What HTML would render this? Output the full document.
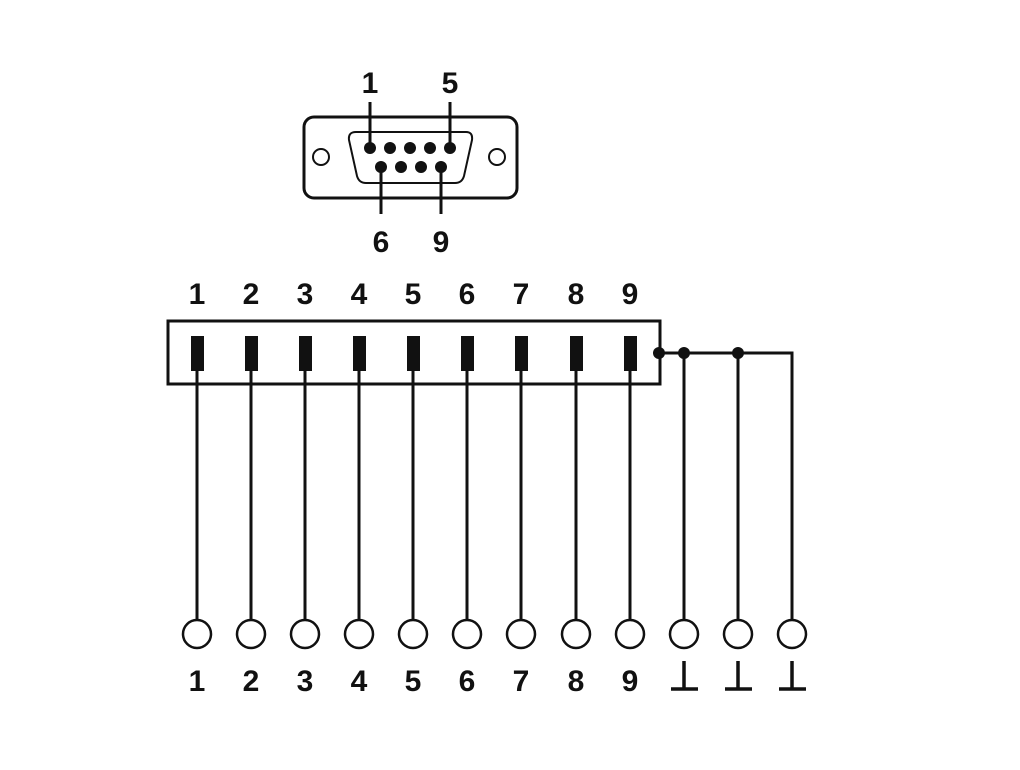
<!DOCTYPE html>
<html><head><style>body{margin:0;background:#fff}</style></head><body>
<svg width="1020" height="765" viewBox="0 0 1020 765" xmlns="http://www.w3.org/2000/svg" font-family="Liberation Sans, sans-serif" font-weight="bold" font-size="30" fill="none" stroke="#111" stroke-width="3">
<rect x="304" y="117" width="213" height="81" rx="10"/>
<circle cx="321" cy="157" r="8" stroke-width="2"/>
<circle cx="497" cy="157" r="8" stroke-width="2"/>
<path d="M356 132 H466 Q473 132 472 140 L464 176 Q462 183 455 183 H366 Q359 183 357 176 L349 140 Q348 132 356 132 Z" stroke-width="2"/>
<g fill="#111" stroke="none">
<circle cx="370" cy="148" r="6"/><circle cx="390" cy="148" r="6"/><circle cx="410" cy="148" r="6"/><circle cx="430" cy="148" r="6"/><circle cx="450" cy="148" r="6"/>
<circle cx="381" cy="167" r="6"/><circle cx="401" cy="167" r="6"/><circle cx="421" cy="167" r="6"/><circle cx="441" cy="167" r="6"/>
</g>
<path d="M370 148 V102 M450 148 V102 M381 167 V214 M441 167 V214"/>
<g fill="#111" stroke="none" text-anchor="middle">
<text x="370" y="93">1</text><text x="450" y="93">5</text>
<text x="381" y="252">6</text><text x="441" y="252">9</text>
</g>
<rect x="168" y="321" width="492" height="63"/>
<path d="M659 353 H792 V620 M684 353 V620 M738 353 V620"/>
<g fill="#111" stroke="none">
<circle cx="659" cy="353" r="6"/><circle cx="684" cy="353" r="6"/><circle cx="738" cy="353" r="6"/>
</g>
<g fill="#111" stroke="none" text-anchor="middle">
<text x="197" y="304">1</text><text x="251" y="304">2</text><text x="305" y="304">3</text><text x="359" y="304">4</text><text x="413" y="304">5</text><text x="467" y="304">6</text><text x="521" y="304">7</text><text x="576" y="304">8</text><text x="630" y="304">9</text>
<text x="197" y="691">1</text><text x="251" y="691">2</text><text x="305" y="691">3</text><text x="359" y="691">4</text><text x="413" y="691">5</text><text x="467" y="691">6</text><text x="521" y="691">7</text><text x="576" y="691">8</text><text x="630" y="691">9</text>
<rect x="191" y="336" width="13" height="35"/><rect x="245" y="336" width="13" height="35"/><rect x="299" y="336" width="13" height="35"/><rect x="353" y="336" width="13" height="35"/><rect x="407" y="336" width="13" height="35"/><rect x="461" y="336" width="13" height="35"/><rect x="515" y="336" width="13" height="35"/><rect x="570" y="336" width="13" height="35"/><rect x="624" y="336" width="13" height="35"/>
</g>
<path d="M197 370 V620 M251 370 V620 M305 370 V620 M359 370 V620 M413 370 V620 M467 370 V620 M521 370 V620 M576 370 V620 M630 370 V620"/>
<g stroke-width="2.5">
<circle cx="197" cy="634" r="14"/><circle cx="251" cy="634" r="14"/><circle cx="305" cy="634" r="14"/><circle cx="359" cy="634" r="14"/><circle cx="413" cy="634" r="14"/><circle cx="467" cy="634" r="14"/><circle cx="521" cy="634" r="14"/><circle cx="576" cy="634" r="14"/><circle cx="630" cy="634" r="14"/><circle cx="684" cy="634" r="14"/><circle cx="738" cy="634" r="14"/><circle cx="792" cy="634" r="14"/>
</g>
<path stroke-width="3.5" d="M684 661 V689 M671 689 H698 M738 661 V689 M725 689 H752 M792 661 V689 M779 689 H806"/>
</svg>
</body></html>
